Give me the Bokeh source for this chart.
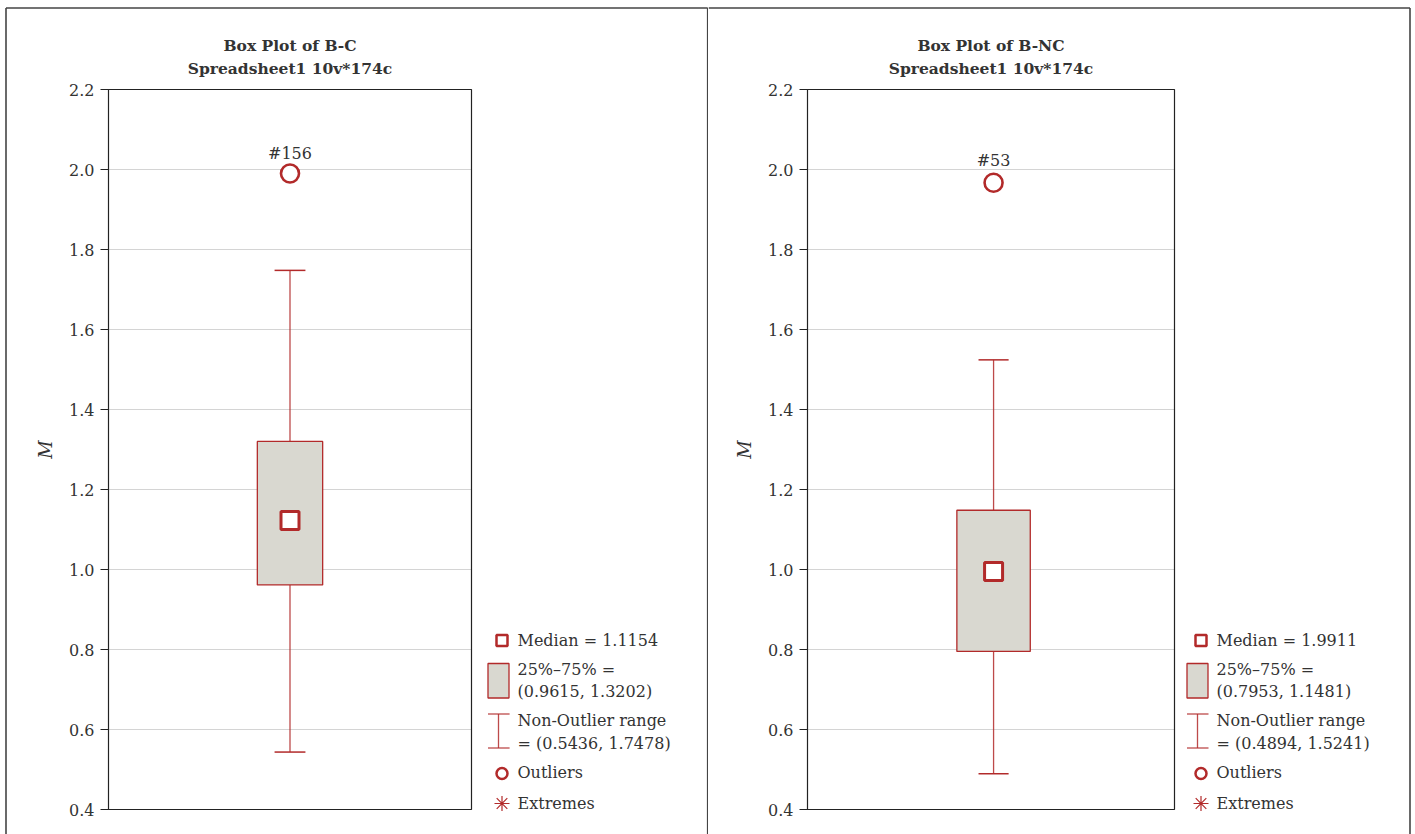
import math
from bokeh.plotting import figure
from bokeh.models import Range1d, FixedTicker, PrintfTickFormatter
from bokeh.layouts import row
from bokeh.embed import file_html
from bokeh.resources import INLINE
from bokeh.core.properties import value

# ---------------- data ----------------
titles = ["Box Plot of B-C", "Box Plot of B-NC"]
subtitle = "Spreadsheet1 10v*174c"
y_label = "M"
y_ticks = [0.4, 0.6, 0.8, 1.0, 1.2, 1.4, 1.6, 1.8, 2.0, 2.2]
median_drawn = [1.1225, 0.995]
median_text = ["1.1154", "1.9911"]
q1 = [0.9615, 0.7953]
q3 = [1.3202, 1.1481]
whisk_lo = [0.5436, 0.4894]
whisk_hi = [1.7478, 1.5241]
outlier_vals = [1.99, 1.967]
outlier_ids = ["#156", "#53"]

RED = "#b22a2a"
BOXFILL = "#d9d8d0"
TXT = "#333333"
FONT = "DejaVu Serif"
H = 834
PX_PER_Y = 400.0   # pixels per unit of M
Y_BOTTOM_PX = 809  # canvas y of 0.4

panels = [
    dict(width=708, inner_left=108, inner_w=363, box_w=0.18, cap_w=0.085, center=0.5,
         label_off=20, border_left=5.5, border_right=707.2),
    dict(width=707, inner_left=99, inner_w=367, box_w=0.2, cap_w=0.082, center=0.507,
         label_off=22, border_left=None, border_right=701.5),
]


def make_panel(i):
    g = panels[i]
    W = g["inner_w"]
    L = g["inner_left"]

    def cx(px):  # canvas x -> data x
        return (px - L) / W

    def cy(py):  # canvas y -> data y
        return 0.4 + (Y_BOTTOM_PX - py) / PX_PER_Y

    p = figure(width=g["width"], height=H, min_border=0,
               x_range=Range1d(cx(0), cx(g["width"])), y_range=Range1d(cy(H), cy(0)),
               x_axis_location=None, output_backend="svg", toolbar_location=None, tools="")
    p.outline_line_color = None
    p.xgrid.visible = False
    p.ygrid.visible = False
    p.background_fill_color = "white"
    p.border_fill_color = "white"

    # y axis, fixed at the inner box's left edge
    ax = p.yaxis[0]
    ax.fixed_location = 0
    ax.ticker = FixedTicker(ticks=y_ticks)
    ax.formatter = PrintfTickFormatter(format="%.1f")
    ax.bounds = (y_ticks[0], y_ticks[-1])
    ax.minor_tick_line_color = None
    ax.major_tick_in = 0
    ax.major_tick_out = 8
    ax.major_tick_line_color = "#222222"
    ax.axis_line_color = "#222222"
    ax.major_label_text_font = FONT
    ax.major_label_text_font_size = "16px"
    ax.major_label_text_color = TXT
    ax.major_label_standoff = 6

    # gridlines inside inner box
    gy = y_ticks[1:-1]
    p.segment(x0=[0] * len(gy), x1=[1] * len(gy), y0=gy, y1=gy, line_color="#d4d4d4", line_width=1)
    # inner box outline
    p.quad(left=[0], right=[1], bottom=[y_ticks[0]], top=[y_ticks[-1]], fill_color=None,
           line_color="#222222", line_width=1.2)

    c = g["center"]
    bw = g["box_w"]
    cw = g["cap_w"]
    # whiskers
    p.segment(x0=[c, c], x1=[c, c], y0=[q3[i], q1[i]], y1=[whisk_hi[i], whisk_lo[i]],
              line_color=RED, line_width=1.3, line_alpha=0.85)
    p.segment(x0=[c - cw / 2] * 2, x1=[c + cw / 2] * 2, y0=[whisk_hi[i], whisk_lo[i]],
              y1=[whisk_hi[i], whisk_lo[i]], line_color=RED, line_width=1.5)
    # box
    p.quad(left=[c - bw / 2], right=[c + bw / 2], bottom=[q1[i]], top=[q3[i]],
           fill_color=BOXFILL, line_color=RED, line_width=1.3)
    # median
    p.scatter(x=[c], y=[median_drawn[i]], marker="square", size=18, fill_color="white",
              line_color=RED, line_width=3)
    # outlier
    p.scatter(x=[c], y=[outlier_vals[i]], marker="circle", size=18, fill_color="white",
              line_color=RED, line_width=2.6)
    p.text(x=[c], y=[outlier_vals[i]], text=[outlier_ids[i]], y_offset=-g["label_off"],
           text_align="center", text_baseline="middle", text_font=value(FONT),
           text_font_size="16px", text_color=TXT)

    # titles
    p.text(x=[0.5, 0.5], y=[cy(45), cy(68)], text=[titles[i], subtitle], text_align="center",
           text_baseline="middle", text_font=value(FONT), text_font_style="bold",
           text_font_size="15.5px", text_color=TXT)
    # y axis label
    p.text(x=[cx(L - 63)], y=[(y_ticks[0] + y_ticks[-1]) / 2], text=[y_label], angle=math.pi / 2,
           text_align="center", text_baseline="middle", text_font=value(FONT),
           text_font_style="italic", text_font_size="18px", text_color=TXT)

    # legend
    def dx(off):
        return off / W
    ix = dx(393.5)
    tx = dx(409)
    texts = [
        "Median = " + median_text[i],
        "25%\u201375% =",
        "(%.4f, %.4f)" % (q1[i], q3[i]),
        "Non-Outlier range",
        "= (%.4f, %.4f)" % (whisk_lo[i], whisk_hi[i]),
        "Outliers",
        "Extremes",
    ]
    text_y = [cy(v) for v in (640, 669, 691, 720, 743, 772, 803)]
    p.text(x=[tx] * len(texts), y=text_y, text=texts, text_align="left", text_baseline="middle",
           text_font=value(FONT), text_font_size="16px", text_color=TXT)
    p.scatter(x=[ix], y=[cy(640)], marker="square", size=11, fill_color="white", line_color=RED,
              line_width=2.5)
    p.quad(left=[dx(379.5)], right=[dx(400.5)], bottom=[cy(697.5)], top=[cy(663)],
           fill_color=BOXFILL, line_color=RED, line_width=1.3)
    wx = dx(390)
    p.segment(x0=[wx], x1=[wx], y0=[cy(713.5)], y1=[cy(747.5)], line_color=RED, line_width=1.3,
              line_alpha=0.85)
    p.segment(x0=[dx(379.5)] * 2, x1=[dx(401)] * 2, y0=[cy(713.5), cy(747.5)],
              y1=[cy(713.5), cy(747.5)], line_color=RED, line_width=1.3, line_alpha=0.85)
    p.scatter(x=[ix], y=[cy(773)], marker="circle", size=11, fill_color="white", line_color=RED,
              line_width=2.5)
    p.scatter(x=[ix], y=[cy(803)], marker="asterisk", size=15, line_color=RED, line_width=1.2)

    # outer panel border
    bl = g["border_left"]
    br = g["border_right"]
    top_left = bl if bl is not None else 0
    xs0 = [cx(top_left), cx(br)]
    xs1 = [cx(br), cx(br)]
    ys0 = [cy(7.5), cy(7.5)]
    ys1 = [cy(7.5), cy(H + 10)]
    if bl is not None:
        xs0.append(cx(bl)); xs1.append(cx(bl)); ys0.append(cy(7.5)); ys1.append(cy(H + 10))
    p.segment(x0=xs0, x1=xs1, y0=ys0, y1=ys1, line_color="#444444", line_width=1.6)
    return p


p1 = make_panel(0)
p2 = make_panel(1)
layout = row(p1, p2, spacing=0)
open("out.html", "w").write(file_html(layout, INLINE))
